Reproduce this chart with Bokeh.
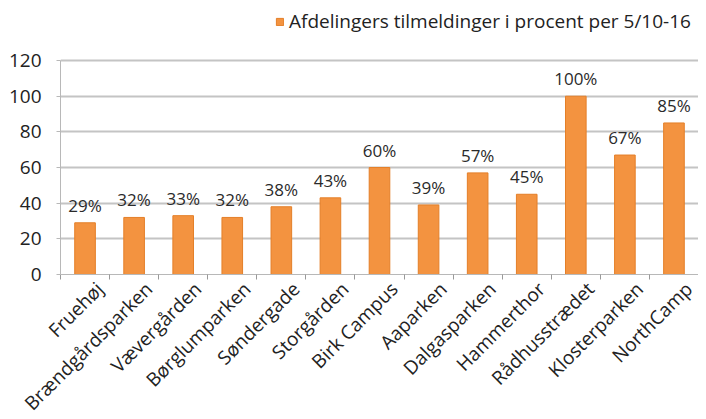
import math
from bokeh.plotting import figure
from bokeh.models import ColumnDataSource, Range1d, FixedTicker, Legend, LegendItem
from bokeh.core.properties import value
from bokeh.embed import file_html
from bokeh.resources import INLINE

categories = ["Fruehøj", "Brændgårdsparken", "Vævergården", "Børglumparken", "Søndergade",
              "Storgården", "Birk Campus", "Aaparken", "Dalgasparken", "Hammerthor",
              "Rådhusstrædet", "Klosterparken", "NorthCamp"]
values = [29, 32, 33, 32, 38, 43, 60, 39, 57, 45, 100, 67, 85]
value_labels = ["29%", "32%", "33%", "32%", "38%", "43%", "60%", "39%", "57%", "45%", "100%", "67%", "85%"]
y_ticks = [0, 20, 40, 60, 80, 100, 120]
series_name = "Afdelingers tilmeldinger i procent per 5/10-16"

FONT = "Open Sans"
n = len(categories)
centers = [i + 0.5 for i in range(n)]
bounds = list(range(n + 1))
# label anchors nudged right so the rotated names end just right of each bar
label_ticks = [c + 0.3 for c in centers]

src = ColumnDataSource(dict(x=centers, top=values, lab=value_labels))

# frame extends above 120 so the legend can sit inside it, above the top gridline
p = figure(frame_width=638, frame_height=271,
           x_range=Range1d(0, n), y_range=Range1d(0, 152),
           output_backend="svg", toolbar_location=None,
           min_border_left=60, min_border_top=3, min_border_right=0, min_border_bottom=10)
p.outline_line_color = None
p.background_fill_color = "white"

bars = p.vbar(x="x", top="top", width=0.42, bottom=0, source=src,
              fill_color="#F39340", line_color="#E47F28", line_width=1)

p.text(x="x", y="top", text="lab", source=src, y_offset=-6,
       text_align="center", text_baseline="bottom",
       text_font=value(FONT), text_font_size="17px", text_color="#2a2a2a")

# y axis
p.yaxis.ticker = FixedTicker(ticks=y_ticks)
p.yaxis.bounds = (0, 120)
p.yaxis.axis_line_color = "#B8B8B8"
p.yaxis.major_tick_line_color = "#B8B8B8"
p.yaxis.major_tick_out = 4
p.yaxis.major_tick_in = 0
p.yaxis.minor_tick_line_color = None
p.yaxis.major_label_text_font = FONT
p.yaxis.major_label_text_font_size = "19px"
p.yaxis.major_label_text_color = "#222222"
p.yaxis.major_label_standoff = 15

# x axis
p.xaxis.ticker = FixedTicker(ticks=label_ticks, minor_ticks=bounds)
p.xaxis.major_label_overrides = {t: name for t, name in zip(label_ticks, categories)}
p.xaxis.major_label_orientation = math.pi / 4
p.xaxis.axis_line_color = "#B8B8B8"
p.xaxis.major_tick_line_color = None
p.xaxis.major_tick_out = 0
p.xaxis.major_tick_in = 0
p.xaxis.minor_tick_line_color = "#999999"
p.xaxis.minor_tick_out = 5
p.xaxis.minor_tick_in = 0
p.xaxis.major_label_text_font = FONT
p.xaxis.major_label_text_font_size = "19px"
p.xaxis.major_label_text_color = "#222222"
p.xaxis.major_label_standoff = 6

p.xgrid.grid_line_color = None
p.ygrid.ticker = FixedTicker(ticks=y_ticks)
p.ygrid.grid_line_color = "#C4C4C4"
p.ygrid.grid_line_width = 2

legend = Legend(items=[LegendItem(label=series_name, renderers=[bars])],
                location=(215, 240), orientation="horizontal",
                border_line_color=None, background_fill_alpha=0,
                label_text_font=FONT, label_text_font_size="19px",
                label_text_color="#222222",
                glyph_width=9, glyph_height=9, label_standoff=5,
                padding=0, margin=0)
p.add_layout(legend, "center")

open("out.html", "w").write(file_html(p, INLINE))
